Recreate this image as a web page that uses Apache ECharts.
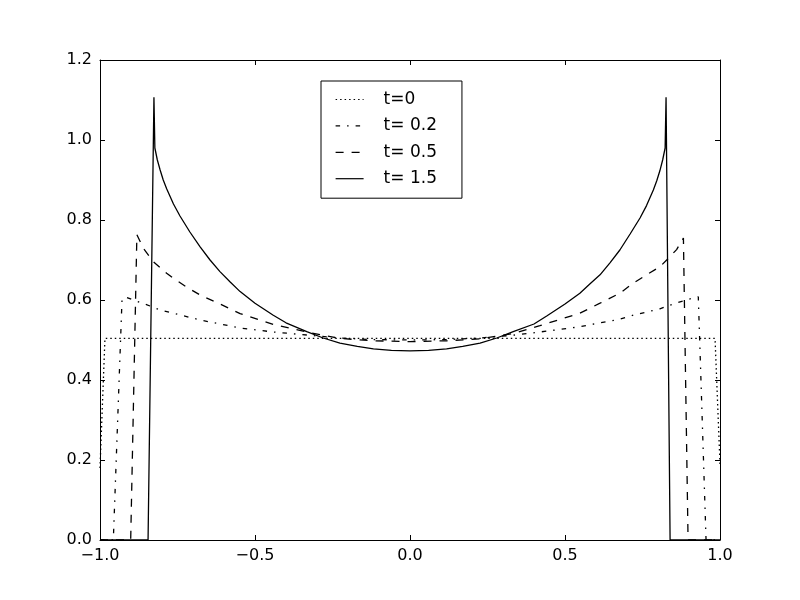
<!DOCTYPE html>
<html>
<head>
<meta charset="utf-8">
<script src="https://cdn.jsdelivr.net/npm/echarts@6/dist/echarts.min.js"></script>
<style>
  html, body { margin: 0; padding: 0; background: #fff; }
  #chart { width: 800px; height: 600px; }
</style>
</head>
<body>
<div id="chart"></div>
<script>
  // ticks
  const xTicks = [-1, -0.5, 0, 0.5, 1]
  const xTickLabels = ['−1.0', '−0.5', '0.0', '0.5', '1.0']
  const yTicks = [0, 0.2, 0.4, 0.6, 0.8, 1.0, 1.2]
  const yTickLabels = ['0.0', '0.2', '0.4', '0.6', '0.8', '1.0', '1.2']

  const seriesNames = ['t=0', 't= 0.2', 't= 0.5', 't= 1.5']

  // t=0 (dotted)
  const t0X = [-1.0, -0.984, 0.984, 1.0]
  const t0Y = [0.18, 0.504, 0.504, 0.19]

  // t=0.2 (dash-dot)
  const t02X = [-1.0, -0.957, -0.929, -0.919, -0.892, -0.86, -0.828, -0.806, -0.763, -0.677,
    -0.548, -0.441, -0.333, -0.226, -0.118, 0, 0.118, 0.226, 0.333, 0.419,
    0.548, 0.613, 0.677, 0.72, 0.806, 0.86, 0.90, 0.93, 0.955, 1.0]
  const t02Y = [0, 0, 0.6, 0.608, 0.6, 0.591, 0.582, 0.575, 0.567, 0.55,
    0.53, 0.52, 0.5125, 0.505, 0.501, 0.5, 0.501, 0.505, 0.512, 0.52,
    0.533, 0.543, 0.552, 0.562, 0.578, 0.593, 0.602, 0.608, 0, 0]

  // t=0.5 (dashed)
  const t05X = [-1.0, -0.901, -0.881, -0.86, -0.828, -0.785, -0.763, -0.72, -0.677, -0.613,
    -0.548, -0.441, -0.333, -0.226, -0.118, 0, 0.118, 0.226, 0.333, 0.419,
    0.548, 0.613, 0.677, 0.72, 0.774, 0.806, 0.828, 0.86, 0.882, 0.897, 1.0]
  const t05Y = [0, 0, 0.763, 0.729, 0.696, 0.667, 0.654, 0.632, 0.6125, 0.59,
    0.566, 0.539, 0.52, 0.504, 0.498, 0.496, 0.498, 0.503, 0.516, 0.536,
    0.567, 0.592, 0.617, 0.642, 0.668, 0.683, 0.70, 0.726, 0.755, 0, 0]

  // t=1.5 (solid)
  const t15X = [-1.0, -0.845, -0.826, -0.823, -0.815, -0.806, -0.796, -0.785, -0.763, -0.742,
    -0.71, -0.677, -0.645, -0.613, -0.58, -0.548, -0.5, -0.441, -0.4, -0.333,
    -0.28, -0.226, -0.17, -0.118, -0.06, 0, 0.06, 0.118, 0.17, 0.226,
    0.28, 0.333, 0.4, 0.441, 0.5, 0.548, 0.58, 0.613, 0.645, 0.677,
    0.71, 0.742, 0.763, 0.785, 0.796, 0.806, 0.815, 0.823, 0.826, 0.839, 1.0]
  const t15Y = [0, 0, 1.107, 0.98, 0.95, 0.925, 0.9, 0.878, 0.84, 0.81,
    0.77, 0.733, 0.70, 0.671, 0.645, 0.621, 0.592, 0.562, 0.543, 0.521,
    0.505, 0.492, 0.484, 0.478, 0.474, 0.473, 0.474, 0.478, 0.484, 0.492,
    0.505, 0.521, 0.54, 0.56, 0.59, 0.617, 0.64, 0.663, 0.693, 0.725,
    0.765, 0.805, 0.836, 0.875, 0.898, 0.923, 0.95, 0.98, 1.107, 0, 0]

  const FONT = 'DejaVu Sans'

  function pairs (xs, ys) {
    return xs.map((x, i) => [x, ys[i]])
  }

  function tickLabel (ticks, labels) {
    return function (v) {
      for (let i = 0; i < ticks.length; i++) {
        if (Math.abs(ticks[i] - v) < 1e-9) return labels[i]
      }
      return ''
    }
  }

  function makeLine (name, xs, ys, dash) {
    return {
      name: name,
      type: 'line',
      data: pairs(xs, ys),
      symbol: 'none',
      showSymbol: false,
      clip: true,
      color: '#000',
      lineStyle: { color: '#000', width: 1.3, type: dash },
      emphasis: { disabled: true }
    }
  }

  const axisCommon = {
    axisLine: { show: true, onZero: false, lineStyle: { color: '#000', width: 1 } },
    axisTick: { show: true, inside: true, length: 5, lineStyle: { color: '#000' } },
    splitLine: { show: false }
  }

  const chart = echarts.init(document.getElementById('chart'))
  const option = {
    animation: false,
    backgroundColor: '#fff',
    textStyle: { fontFamily: FONT },
    grid: { left: 100, right: 80, top: 60, bottom: 60 },
    legend: {
      left: 321,
      top: 81,
      orient: 'vertical',
      data: seriesNames,
      itemWidth: 28,
      itemHeight: 14,
      itemGap: 9.4,
      padding: [10, 25, 11, 14],
      borderColor: '#000',
      borderWidth: 1,
      borderRadius: 0,
      backgroundColor: '#fff',
      selectedMode: false,
      itemStyle: { opacity: 0 },
      lineStyle: { width: 1.2 },
      textStyle: { fontFamily: FONT, fontSize: 17, color: '#000', padding: [0, 0, 0, 15] }
    },
    xAxis: [
      Object.assign({
        type: 'value', position: 'bottom', min: -1, max: 1, interval: 0.5,
        axisLabel: { color: '#000', fontSize: 16, fontFamily: FONT, margin: 8,
          formatter: tickLabel(xTicks, xTickLabels) }
      }, axisCommon),
      Object.assign({
        type: 'value', position: 'top', min: -1, max: 1, interval: 0.5,
        axisLabel: { show: false }
      }, axisCommon)
    ],
    yAxis: [
      Object.assign({
        type: 'value', position: 'left', min: 0, max: 1.2, interval: 0.2,
        axisLabel: { color: '#000', fontSize: 16, fontFamily: FONT, margin: 8,
          formatter: tickLabel(yTicks, yTickLabels) }
      }, axisCommon),
      Object.assign({
        type: 'value', position: 'right', min: 0, max: 1.2, interval: 0.2,
        axisLabel: { show: false }
      }, axisCommon)
    ],
    series: [
      makeLine(seriesNames[0], t0X, t0Y, [1.5, 3]),
      makeLine(seriesNames[1], t02X, t02Y, [4.5, 7, 1.5, 7]),
      makeLine(seriesNames[2], t05X, t05Y, [8, 8]),
      makeLine(seriesNames[3], t15X, t15Y, 'solid')
    ]
  }
  chart.setOption(option)
  window.addEventListener('resize', chart.resize)
</script>
</body>
</html>
